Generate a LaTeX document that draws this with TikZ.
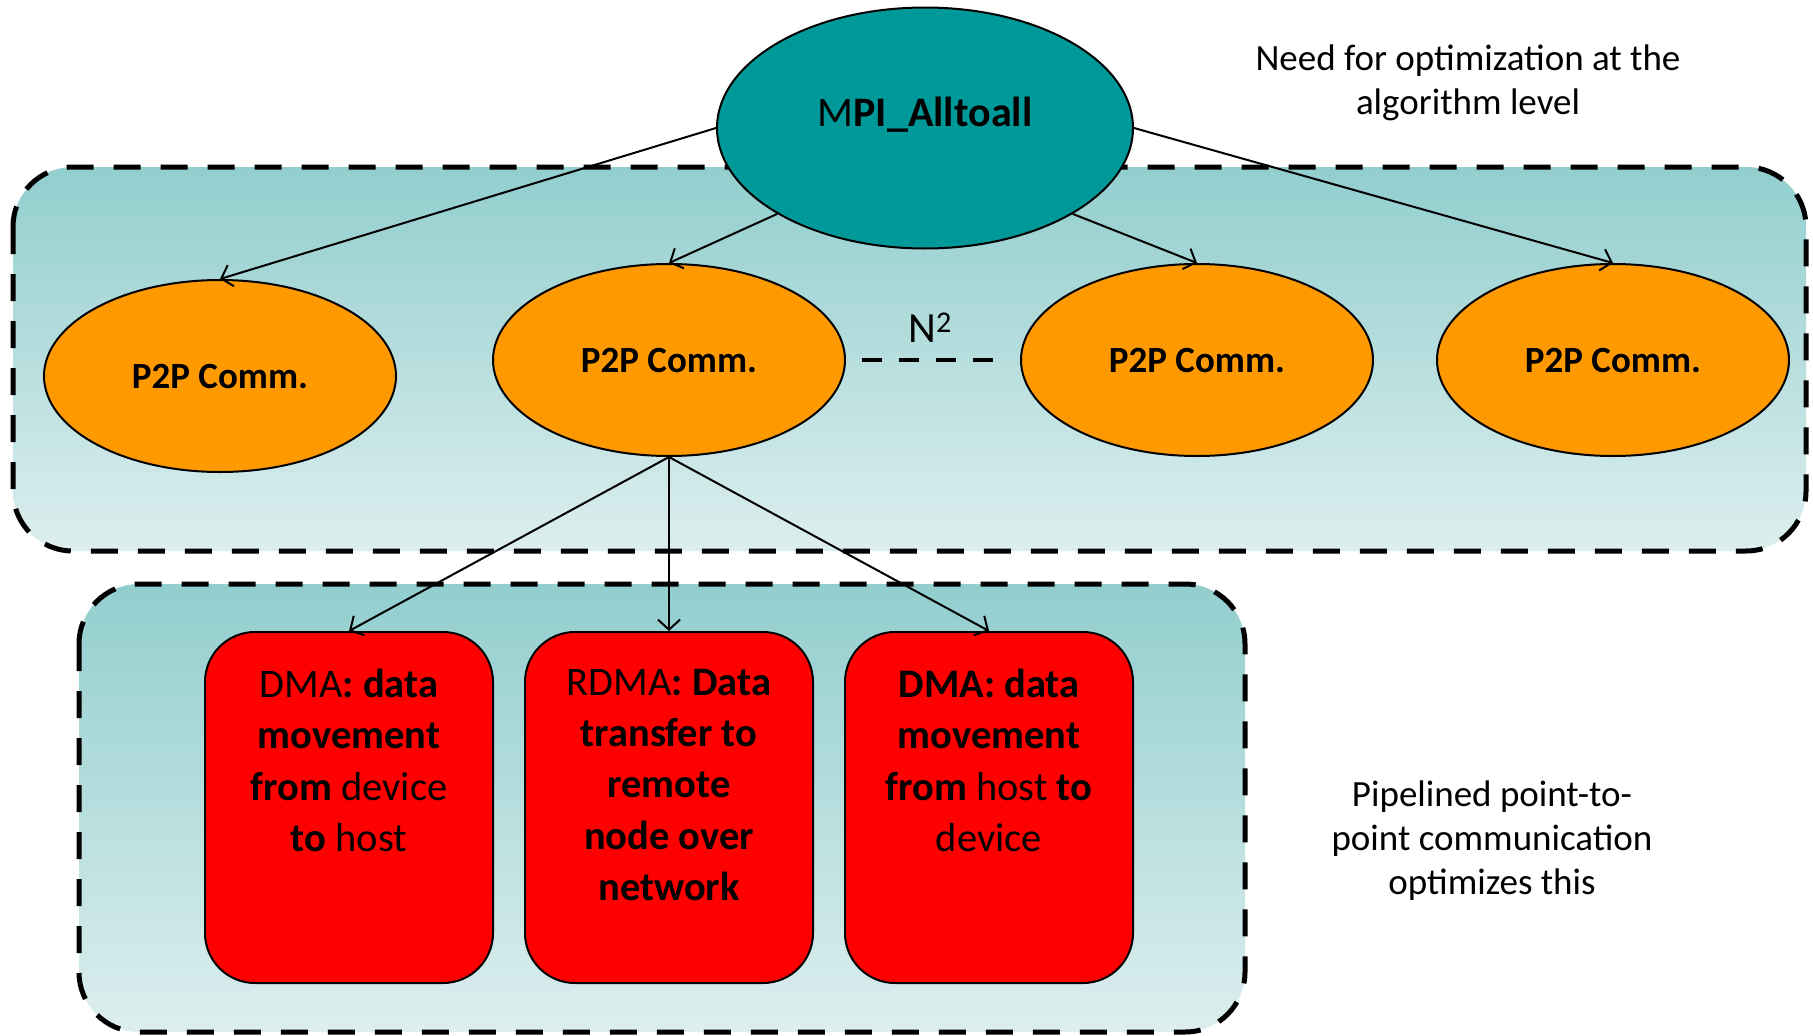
\documentclass[tikz,border=0pt]{standalone}
\usepackage{fontspec}
\setmainfont{Carlito}
\usetikzlibrary{shapes.geometric,arrows.meta,calc}
\definecolor{mpiteal}{RGB}{0,153,153}
\definecolor{p2porange}{RGB}{255,153,0}
\definecolor{dmared}{RGB}{255,0,0}
\definecolor{paneltop}{RGB}{146,206,206}
\definecolor{panelbot}{RGB}{221,238,238}
\begin{document}
\begin{tikzpicture}[x=1pt,y=-1pt,
  panel/.style={draw=black, line width=5pt, dash pattern=on 27pt off 20pt,
    rounded corners=60pt, top color=paneltop, bottom color=panelbot},
  ell/.style={ellipse, draw=black, line width=2pt, inner sep=0pt},
  mpistyle/.style={ell, fill=mpiteal, minimum width=416pt, minimum height=241pt,
    text height=25pt, text depth=28pt, font=\fontsize{42}{50}\selectfont},
  p2p/.style={ell, fill=p2porange, minimum width=352pt, minimum height=192pt,
    font=\fontsize{37}{44}\selectfont\bfseries},
  redbox/.style={draw=black, line width=2pt, fill=dmared, rounded corners=50pt,
    minimum width=288pt, minimum height=351pt, inner sep=0pt},
  boxtext/.style={align=center, anchor=north, inner sep=0pt,
    font=\fontsize{40.5}{51.2}\selectfont},
  note/.style={align=center, inner sep=0pt, font=\fontsize{37}{44}\selectfont},
  link/.style={line width=2pt, -{Straight Barb[length=10pt,width=22pt]}}
]
\useasboundingbox (0,0) rectangle (1813,1036);

% dashed background panels
\path[panel] (13,167) rectangle (1806,551);
\path[panel] (79,584) rectangle (1245,1032);

% collective operation and its point-to-point pieces
\node[mpistyle] (mpi) at (925,128) {M\textbf{PI\_Alltoall}};
\node[p2p] (p1) at (220,376) {P2P Comm.};
\node[p2p] (p2) at (669,360) {P2P Comm.};
\node[p2p] (p3) at (1197,360) {P2P Comm.};
\node[p2p] (p4) at (1613,360) {P2P Comm.};

\draw[link] (mpi.west) -- (p1.north);
\draw[link] (mpi.south west) -- (p2.north);
\draw[link] (mpi.south east) -- (p3.north);
\draw[link] (mpi.east) -- (p4.north);

\draw[line width=4pt, dash pattern=on 20pt off 17pt, shorten <=16pt, shorten >=27pt]
  (p2.east) -- (p3.west);
\node[font=\fontsize{43}{50}\selectfont, anchor=base, inner sep=0pt] (nsq) at (930,342)
  {N\textsuperscript{2}};

% data movement stages
\node[redbox] (b1) at (349,807.5) {};
\node[redbox] (b2) at (669,807.5) {};
\node[redbox] (b3) at (989,807.5) {};

\node[boxtext] (t1) at ($(b1.north)+(0,38)$)
  {DMA\textbf{: data}\\\textbf{movement}\\\textbf{from} device\\\textbf{to} host};
\node[boxtext] (t2) at ($(b2.north)+(0,38)$)
  {RDMA\textbf{: Data}\\\textbf{transfer to}\\\textbf{remote}\\\textbf{node over}\\\textbf{network}};
\node[boxtext] (t3) at ($(b3.north)+(0,38)$)
  {\textbf{DMA: data}\\\textbf{movement}\\\textbf{from} host \textbf{to}\\device};

\draw[link] (p2.south) -- (b1.north);
\draw[link] (p2.south) -- (b2.north);
\draw[link] (p2.south) -- (b3.north);

% side notes
\node[note] (n1) at (1468,82.5) {Need for optimization at the\\algorithm level};
\node[note] (n2) at (1492,840.5) {Pipelined point-to-\\point communication\\optimizes this};
\end{tikzpicture}
\end{document}
